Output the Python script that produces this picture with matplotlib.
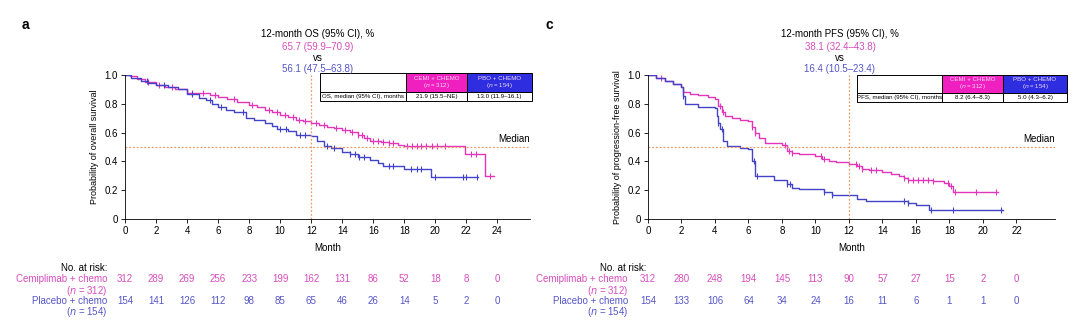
import numpy as np
import matplotlib
matplotlib.use("Agg")
import matplotlib.pyplot as plt
import matplotlib.transforms as mtransforms
from matplotlib.patches import Rectangle

plt.rcParams['font.family'] = ['Liberation Sans', 'DejaVu Sans']

# ---- colours ----
MAG = '#E236BA'
BLU = '#4343C8'
MAG_TXT = '#D64DBE'
BLU_TXT = '#5555C8'
MAG_HEAD = '#F020C0'
BLU_HEAD = '#2E2EE0'
REF = '#EC9A66'

# ---- OS (panel a) ----
os_cemi_t = [0, 0.3, 0.8, 1.3, 2.0, 2.6, 3.2, 4.0, 4.8, 5.5, 6.0, 6.6, 7.2, 8.0, 8.5, 9.0, 9.5, 10.0, 10.5,
             11.0, 11.5, 12.0, 12.5, 13.0, 13.5, 14.0, 14.5, 15.0, 15.4, 15.8, 16.5, 17.0, 17.6, 18.0, 21.9, 23.2]
os_cemi_s = [1.0, 0.99, 0.97, 0.95, 0.93, 0.92, 0.90, 0.878, 0.872, 0.86, 0.85, 0.835, 0.815, 0.79, 0.775, 0.757,
             0.74, 0.72, 0.705, 0.69, 0.68, 0.665, 0.652, 0.64, 0.63, 0.62, 0.605, 0.585, 0.565, 0.54, 0.532, 0.527,
             0.515, 0.505, 0.453, 0.30]
os_cemi_end = 23.8
os_cemi_cens = [1.5, 2.2, 3.0, 4.3, 5.0, 5.8, 7.0, 8.2, 9.3, 9.8, 10.3, 10.8, 11.2, 11.6, 12.3, 12.8, 13.6, 14.2,
                14.6, 15.0, 15.3, 15.6, 16.0, 16.3, 16.6, 17.0, 17.3, 18.2, 18.5, 18.8, 19.1, 19.4, 19.8, 20.1,
                20.6, 22.3, 22.6, 23.5]

os_pbo_t = [0, 0.4, 1.0, 1.5, 2.0, 2.8, 3.4, 4.0, 4.8, 5.2, 5.6, 6.0, 6.5, 7.0, 7.8, 8.3, 9.0, 9.5, 9.8, 10.5,
            11.0, 12.0, 12.4, 12.8, 13.3, 14.0, 14.5, 15.0, 15.8, 16.3, 16.6, 18.0, 19.7]
os_pbo_s = [1.0, 0.98, 0.96, 0.945, 0.93, 0.915, 0.90, 0.87, 0.84, 0.825, 0.80, 0.776, 0.76, 0.745, 0.70, 0.685,
            0.665, 0.645, 0.624, 0.61, 0.585, 0.573, 0.54, 0.51, 0.49, 0.462, 0.45, 0.43, 0.41, 0.39, 0.37, 0.346,
            0.295]
os_pbo_end = 22.75
os_pbo_cens = [1.4, 2.5, 4.3, 5.5, 6.2, 7.6, 10.0, 10.4, 11.3, 11.6, 13.0, 13.5, 14.5, 14.8, 15.1, 15.4, 17.0,
               17.3, 18.4, 18.8, 19.1, 20.0, 21.8, 22.0, 22.7]

os_months = [0, 2, 4, 6, 8, 10, 12, 14, 16, 18, 20, 22, 24]
os_risk_cemi = [312, 289, 269, 256, 233, 199, 162, 131, 86, 52, 18, 8, 0]
os_risk_pbo = [154, 141, 126, 112, 98, 85, 65, 46, 26, 14, 5, 2, 0]

# ---- PFS (panel c) ----
pfs_cemi_t = [0, 0.5, 1.0, 1.5, 2.0, 2.1, 2.5, 3.0, 3.6, 4.0, 4.2, 4.4, 4.6, 5.0, 5.5, 6.0, 6.2, 6.4, 6.6, 7.0,
              7.5, 8.0, 8.3, 8.6, 9.0, 10.0, 10.4, 10.8, 11.2, 12.0, 12.5, 12.8, 13.2, 14.0, 14.5, 15.0, 15.3,
              15.5, 16.0, 17.0, 17.7, 18.0, 18.2]
pfs_cemi_s = [1.0, 0.98, 0.96, 0.94, 0.92, 0.88, 0.87, 0.86, 0.845, 0.83, 0.786, 0.74, 0.716, 0.70, 0.69, 0.68,
              0.64, 0.60, 0.565, 0.53, 0.525, 0.515, 0.472, 0.46, 0.45, 0.44, 0.414, 0.40, 0.395, 0.38, 0.365,
              0.35, 0.342, 0.326, 0.315, 0.30, 0.285, 0.272, 0.27, 0.263, 0.25, 0.228, 0.19]
pfs_cemi_end = 20.9
pfs_cemi_cens = [0.8, 2.1, 4.3, 4.5, 6.2, 6.4, 8.2, 8.4, 8.6, 10.3, 10.5, 12.4, 12.6, 12.8, 13.3, 13.6, 15.3,
                 15.5, 15.8, 16.1, 16.4, 16.7, 17.0, 17.9, 18.1, 18.3, 19.6, 20.8]

pfs_pbo_t = [0, 0.5, 1.0, 1.5, 2.0, 2.1, 2.2, 3.0, 4.0, 4.1, 4.2, 4.3, 4.5, 4.7, 5.5, 6.0, 6.2, 6.4, 7.0, 7.5,
             8.0, 8.3, 8.6, 9.0, 10.5, 11.0, 12.5, 13.0, 15.5, 16.0, 16.8]
pfs_pbo_s = [1.0, 0.98, 0.955, 0.935, 0.914, 0.856, 0.80, 0.775, 0.77, 0.716, 0.67, 0.623, 0.54, 0.51, 0.495,
             0.484, 0.40, 0.30, 0.30, 0.274, 0.274, 0.24, 0.216, 0.205, 0.186, 0.17, 0.14, 0.123, 0.112, 0.10, 0.065]
pfs_pbo_end = 21.2
pfs_pbo_cens = [2.1, 4.2, 4.4, 6.3, 6.5, 8.3, 8.5, 10.5, 11.0, 15.3, 15.5, 16.9, 18.2, 21.1]

pfs_months = [0, 2, 4, 6, 8, 10, 12, 14, 16, 18, 20, 22]
pfs_risk_cemi = [312, 280, 248, 194, 145, 113, 90, 57, 27, 15, 2, 0]
pfs_risk_pbo = [154, 133, 106, 64, 34, 24, 16, 11, 6, 1, 1, 0]

W, H = 1080, 330
fig = plt.figure(figsize=(W / 100, H / 100), dpi=100)


def px(x, y):
    """pixel position (from top-left) -> figure fraction"""
    return x / W, 1 - y / H


def km(ax, t, s, end, cens, color):
    # step curve plus censor ticks
    tt = list(t) + [end]
    ss = list(s) + [s[-1]]
    ax.plot(tt, ss, drawstyle='steps-post', color=color, lw=1.0)
    idx = np.searchsorted(t, cens, side='right') - 1
    ax.plot(cens, np.array(s)[idx], ls='none', marker='|', ms=5, mew=0.8, color=color)


def panel(left_px, right_px, xmax, curves, ylabel, months, xtick_max, letter, head, vals, table_row,
          table_px, risk, label_x, risk_x, norisk_x):
    x0, y0 = px(left_px, 219)
    x1, y1 = px(right_px, 75)
    ax = fig.add_axes([x0, y0, x1 - x0, y1 - y0])
    for c in curves:
        km(ax, *c)
    ax.set_xlim(0, xmax)
    ax.set_ylim(0, 1.0)
    ax.set_xticks(range(0, xtick_max + 1, 2))
    ax.set_yticks([0, 0.2, 0.4, 0.6, 0.8, 1.0])
    ax.set_yticklabels(['0', '0.2', '0.4', '0.6', '0.8', '1.0'])
    ax.spines['top'].set_visible(False)
    ax.spines['right'].set_visible(False)
    ax.spines['left'].set_linewidth(0.6)
    ax.spines['bottom'].set_linewidth(0.6)
    ax.tick_params(labelsize=7, width=0.6, length=3, pad=2)
    ax.set_xlabel('Month', fontsize=7, labelpad=5)
    ax.set_ylabel(ylabel, fontsize=6.5, labelpad=4)

    # median / 12 month reference lines
    ax.axhline(0.5, color=REF, ls=(0, (1.5, 1.5)), lw=0.9)
    ax.plot([12, 12], [0, 1.0], color=REF, ls=(0, (1.5, 1.5)), lw=0.9, clip_on=False)
    ax.text(xmax, 0.52, 'Median', ha='right', va='bottom', fontsize=7)

    # header text
    cx = label_x
    fig.text(*px(cx, 34), head, ha='center', va='center', fontsize=7)
    fig.text(*px(cx, 47), vals[0], ha='center', va='center', fontsize=7, color=MAG_TXT)
    fig.text(*px(cx, 58), 'vs', ha='center', va='center', fontsize=7)
    fig.text(*px(cx, 69), vals[1], ha='center', va='center', fontsize=7, color=BLU_TXT)
    fig.text(*px(left_px - 103, 25), letter, ha='left', va='center', fontsize=10, fontweight='bold')

    # median table
    tl, c2, c3, tr, ty0, ty1, ty2 = table_px
    cells = [(tl, c2, ty0, ty1, 'white', ''), (c2, c3, ty0, ty1, MAG_HEAD, 'CEMI + CHEMO\n($n$ = 312)'),
             (c3, tr, ty0, ty1, BLU_HEAD, 'PBO + CHEMO\n($n$ = 154)'),
             (tl, c2, ty1, ty2, 'white', table_row[0]), (c2, c3, ty1, ty2, 'white', table_row[1]),
             (c3, tr, ty1, ty2, 'white', table_row[2])]
    for xa, xb, ya, yb, fc, txt in cells:
        fx, fy = px(xa, yb)
        fw = (xb - xa) / W
        fh = (yb - ya) / H
        fig.patches.append(Rectangle((fx, fy), fw, fh, transform=fig.transFigure, facecolor=fc,
                                     edgecolor='black', lw=0.7, zorder=3))
        if txt:
            tc = 'black' if fc == 'white' else '#F6DDF2'
            fig.text(fx + fw / 2, fy + fh / 2, txt, ha='center', va='center', fontsize=4.4, color=tc,
                     linespacing=1.0, zorder=4)

    # numbers at risk
    tr_ = mtransforms.blended_transform_factory(ax.transData, fig.transFigure)
    fig.text(*px(norisk_x, 268), 'No. at risk:', ha='right', va='center', fontsize=7)
    fig.text(*px(risk_x, 279), 'Cemiplimab + chemo', ha='right', va='center', fontsize=7, color=MAG_TXT)
    fig.text(*px(risk_x, 291), '($n$ = 312)', ha='right', va='center', fontsize=7, color=MAG_TXT)
    fig.text(*px(risk_x, 301), 'Placebo + chemo', ha='right', va='center', fontsize=7, color=BLU_TXT)
    fig.text(*px(risk_x, 312), '($n$ = 154)', ha='right', va='center', fontsize=7, color=BLU_TXT)
    for m, a, b in zip(months, risk[0], risk[1]):
        ax.text(m, 1 - 279 / H, str(a), transform=tr_, ha='center', va='center', fontsize=7, color=MAG_TXT)
        ax.text(m, 1 - 301 / H, str(b), transform=tr_, ha='center', va='center', fontsize=7, color=BLU_TXT)
    return ax


panel(125, 530, 26.1,
      [(os_cemi_t, os_cemi_s, os_cemi_end, os_cemi_cens, MAG), (os_pbo_t, os_pbo_s, os_pbo_end, os_pbo_cens, BLU)],
      'Probability of overall survival', os_months, 24, 'a', '12-month OS (95% CI), %',
      ['65.7 (59.9–70.9)', '56.1 (47.5–63.8)'],
      ['OS, median (95% CI), months', '21.9 (15.5–NE)', '13.0 (11.9–16.1)'],
      (320, 406, 467, 532, 73, 92, 101), (os_risk_cemi, os_risk_pbo), 318, 107, 107)

panel(648, 1055, 24.3,
      [(pfs_cemi_t, pfs_cemi_s, pfs_cemi_end, pfs_cemi_cens, MAG),
       (pfs_pbo_t, pfs_pbo_s, pfs_pbo_end, pfs_pbo_cens, BLU)],
      'Probability of progression-free survival', pfs_months, 22, 'c', '12-month PFS (95% CI), %',
      ['38.1 (32.4–43.8)', '16.4 (10.5–23.4)'],
      ['PFS, median (95% CI), months', '8.2 (6.4–8.3)', '5.0 (4.3–6.2)'],
      (857, 942, 1003, 1067, 75, 93, 102), (pfs_risk_cemi, pfs_risk_pbo), 840, 628, 646)

fig.savefig('out.png', dpi=100)
